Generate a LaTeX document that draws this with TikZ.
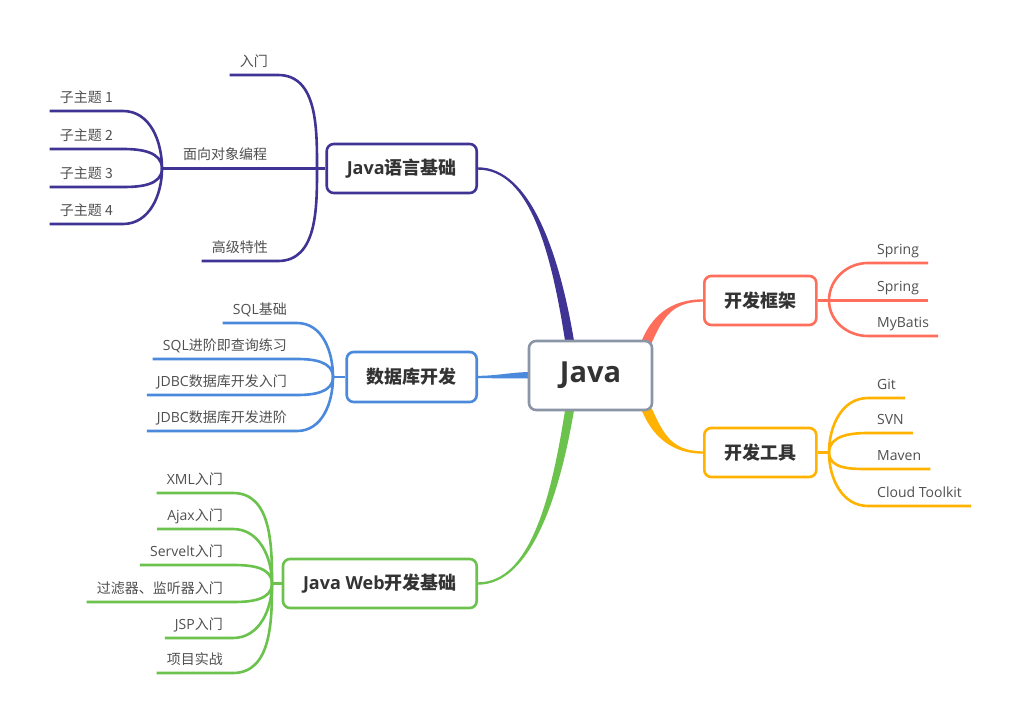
\documentclass[tikz,border=0pt]{standalone}
\usepackage{fontspec}
\setmainfont{Noto Sans CJK SC}
\newfontfamily\en{Open Sans}
\usetikzlibrary{calc,backgrounds}
\definecolor{cpur}{HTML}{3F3394}
\definecolor{cblu}{HTML}{4A89DC}
\definecolor{cgrn}{HTML}{6BC24C}
\definecolor{cred}{HTML}{FF6D5B}
\definecolor{cora}{HTML}{FFB300}
\definecolor{cgry}{HTML}{8A95A6}
\definecolor{ctxt}{HTML}{333333}
\definecolor{cleaf}{HTML}{505050}
\begin{document}
\begin{tikzpicture}[x=1pt,y=-1pt,
  topic/.style={draw=#1, line width=2.6pt, rounded corners=7pt, fill=white,
    minimum height=49pt, inner xsep=20pt,
    font=\fontsize{18}{21}\selectfont\bfseries, text=ctxt},
  leafbase/.style={inner ysep=6pt, text height=10pt, text depth=2.5pt,
    font=\fontsize{14}{16}\selectfont, text=cleaf},
  leafL/.style={leafbase, anchor=south east, inner xsep=10pt},
  leafR/.style={leafbase, anchor=south west, inner xsep=9pt},
  ln/.style={draw=#1, line width=2.6pt},
]
\useasboundingbox (0,0) rectangle (1022,725);

% central and main topics
\node[draw=cgry, line width=2.6pt, rounded corners=7pt, fill=white,
  minimum width=123pt, minimum height=69pt,
  font=\en\fontsize{29}{34}\selectfont\bfseries, text=ctxt] (java) at (590.5,375.5) {Java};
\node[topic=cpur, anchor=east] (t1) at (478,168.5) {{\en Java}语言基础};
\node[topic=cblu, anchor=east, minimum height=50pt] (t2) at (478,377) {数据库开发};
\node[topic=cgrn, anchor=east] (t3) at (478,583.5) {{\en Java Web}开发基础};
\node[topic=cred, anchor=west] (t4) at (703,300.5) {开发框架};
\node[topic=cora, anchor=west] (t5) at (703,452.5) {开发工具};

% junctions
\coordinate (jA) at (317,168.5);
\coordinate (jA2) at (162,168.5);
\coordinate (jB) at (333,377);
\coordinate (jC) at (272,583.5);
\coordinate (jD) at (829,300.5);
\coordinate (jE) at (829,452.5);

% background and tapered main connectors
\begin{scope}[on background layer]
\fill[white] (0,0) rectangle (1022,725);
\fill[cpur] ($(t1.east)+(0,-1.2)$) .. controls +(52,0) and +(-15,-91) .. ($(java.north)+(-16,4)$)
  -- ($(java.north)+(-25,4)$) .. controls +(-14,-91) and +(52,0) .. ($(t1.east)+(0,1.2)$) -- cycle;
\fill[cgrn] ($(t3.east)+(0,-1.2)$) .. controls +(52,0) and +(-14,91) .. ($(java.south)+(-25,-4)$)
  -- ($(java.south)+(-16,-4)$) .. controls +(-15,91) and +(52,0) .. ($(t3.east)+(0,1.2)$) -- cycle;
\fill[cred] ($(t4.west)+(0,1.2)$) .. controls +(-33,0) and +(12,-26) .. ($(java.north east)+(-3,6)$)
  -- ($(java.north east)+(-12,2)$) .. controls +(10,-25) and +(-33,0) .. ($(t4.west)+(0,-1.2)$) -- cycle;
\fill[cora] ($(t5.west)+(0,-1.2)$) .. controls +(-33,0) and +(12,26) .. ($(java.south east)+(-3,-6)$)
  -- ($(java.south east)+(-12,-2)$) .. controls +(10,25) and +(-33,0) .. ($(t5.west)+(0,1.2)$) -- cycle;
\fill[cblu] ($(t2.east)+(0,-1.2)$) .. controls +(20,0) and +(-20,0) .. ($(java.west)+(4,-3.5)$)
  -- ($(java.west)+(4,3)$) .. controls +(-20,0) and +(20,0) .. ($(t2.east)+(0,1.2)$) -- cycle;
\end{scope}

% Java语言基础 branch
\node[leafL] (a1) at (278,75) {入门};
\node[leafbase, anchor=south, inner xsep=10pt] (a2) at (225,168.5) {面向对象编程};
\node[leafL] (a3) at (278,261) {高级特性};
\draw[ln=cpur] (t1.west) -- (jA);
\draw[ln=cpur] (a1.south west) -- (a1.south east) to[out=0,in=90] (jA);
\draw[ln=cpur] (jA) -- (jA2);
\draw[ln=cpur] (a3.south west) -- (a3.south east) to[out=0,in=-90] (jA);
\node[leafL] (s1) at (123,111) {子主题 1};
\node[leafL] (s2) at (123,149) {子主题 2};
\node[leafL] (s3) at (123,187) {子主题 3};
\node[leafL] (s4) at (123,224) {子主题 4};
\draw[ln=cpur] (s1.south west) -- (s1.south east) to[out=0,in=90] (jA2);
\draw[ln=cpur] (s2.south west) -- (s2.south east) to[out=0,in=90] (jA2);
\draw[ln=cpur] (s3.south west) -- (s3.south east) to[out=0,in=-90] (jA2);
\draw[ln=cpur] (s4.south west) -- (s4.south east) to[out=0,in=-90] (jA2);

% 数据库开发 branch
\node[leafL] (b1) at (297,323) {{\en SQL}基础};
\node[leafL] (b2) at (297,359) {{\en SQL}进阶即查询练习};
\node[leafL] (b3) at (297,395) {{\en JDBC}数据库开发入门};
\node[leafL] (b4) at (297,431) {{\en JDBC}数据库开发进阶};
\draw[ln=cblu] (t2.west) -- (jB);
\draw[ln=cblu] (b1.south west) -- (b1.south east) to[out=0,in=90] (jB);
\draw[ln=cblu] (b2.south west) -- (b2.south east) to[out=0,in=90] (jB);
\draw[ln=cblu] (b3.south west) -- (b3.south east) to[out=0,in=-90] (jB);
\draw[ln=cblu] (b4.south west) -- (b4.south east) to[out=0,in=-90] (jB);

% Java Web开发基础 branch
\node[leafL] (c1) at (233,493) {{\en XML}入门};
\node[leafL] (c2) at (233,529) {{\en Ajax}入门};
\node[leafL] (c3) at (233,565) {{\en Servelt}入门};
\node[leafL] (c4) at (233,602) {过滤器、监听器入门};
\node[leafL] (c5) at (233,638) {{\en JSP}入门};
\node[leafL] (c6) at (233,673) {项目实战};
\draw[ln=cgrn] (t3.west) -- (jC);
\draw[ln=cgrn] (c1.south west) -- (c1.south east) to[out=0,in=90] (jC);
\draw[ln=cgrn] (c2.south west) -- (c2.south east) to[out=0,in=90] (jC);
\draw[ln=cgrn] (c3.south west) -- (c3.south east) to[out=0,in=90] (jC);
\draw[ln=cgrn] (c4.south west) -- (c4.south east) to[out=0,in=-90] (jC);
\draw[ln=cgrn] (c5.south west) -- (c5.south east) to[out=0,in=-90] (jC);
\draw[ln=cgrn] (c6.south west) -- (c6.south east) to[out=0,in=-90] (jC);

% 开发框架 branch
\node[leafR] (d1) at (868,263) {{\en Spring}};
\node[leafR] (d2) at (868,300.5) {{\en Spring}};
\node[leafR] (d3) at (868,336) {{\en MyBatis}};
\draw[ln=cred] (t4.east) -- (jD);
\draw[ln=cred] (jD) to[out=90,in=180] (d1.south west) -- (d1.south east);
\draw[ln=cred] (jD) -- (d2.south west) -- (d2.south east);
\draw[ln=cred] (jD) to[out=-90,in=180] (d3.south west) -- (d3.south east);

% 开发工具 branch
\node[leafR] (e1) at (868,398) {{\en Git}};
\node[leafR] (e2) at (868,433) {{\en SVN}};
\node[leafR] (e3) at (868,469) {{\en Maven}};
\node[leafR] (e4) at (868,506) {{\en Cloud Toolkit}};
\draw[ln=cora] (t5.east) -- (jE);
\draw[ln=cora] (jE) to[out=90,in=180] (e1.south west) -- (e1.south east);
\draw[ln=cora] (jE) to[out=90,in=180] (e2.south west) -- (e2.south east);
\draw[ln=cora] (jE) to[out=-90,in=180] (e3.south west) -- (e3.south east);
\draw[ln=cora] (jE) to[out=-90,in=180] (e4.south west) -- (e4.south east);
\end{tikzpicture}
\end{document}
